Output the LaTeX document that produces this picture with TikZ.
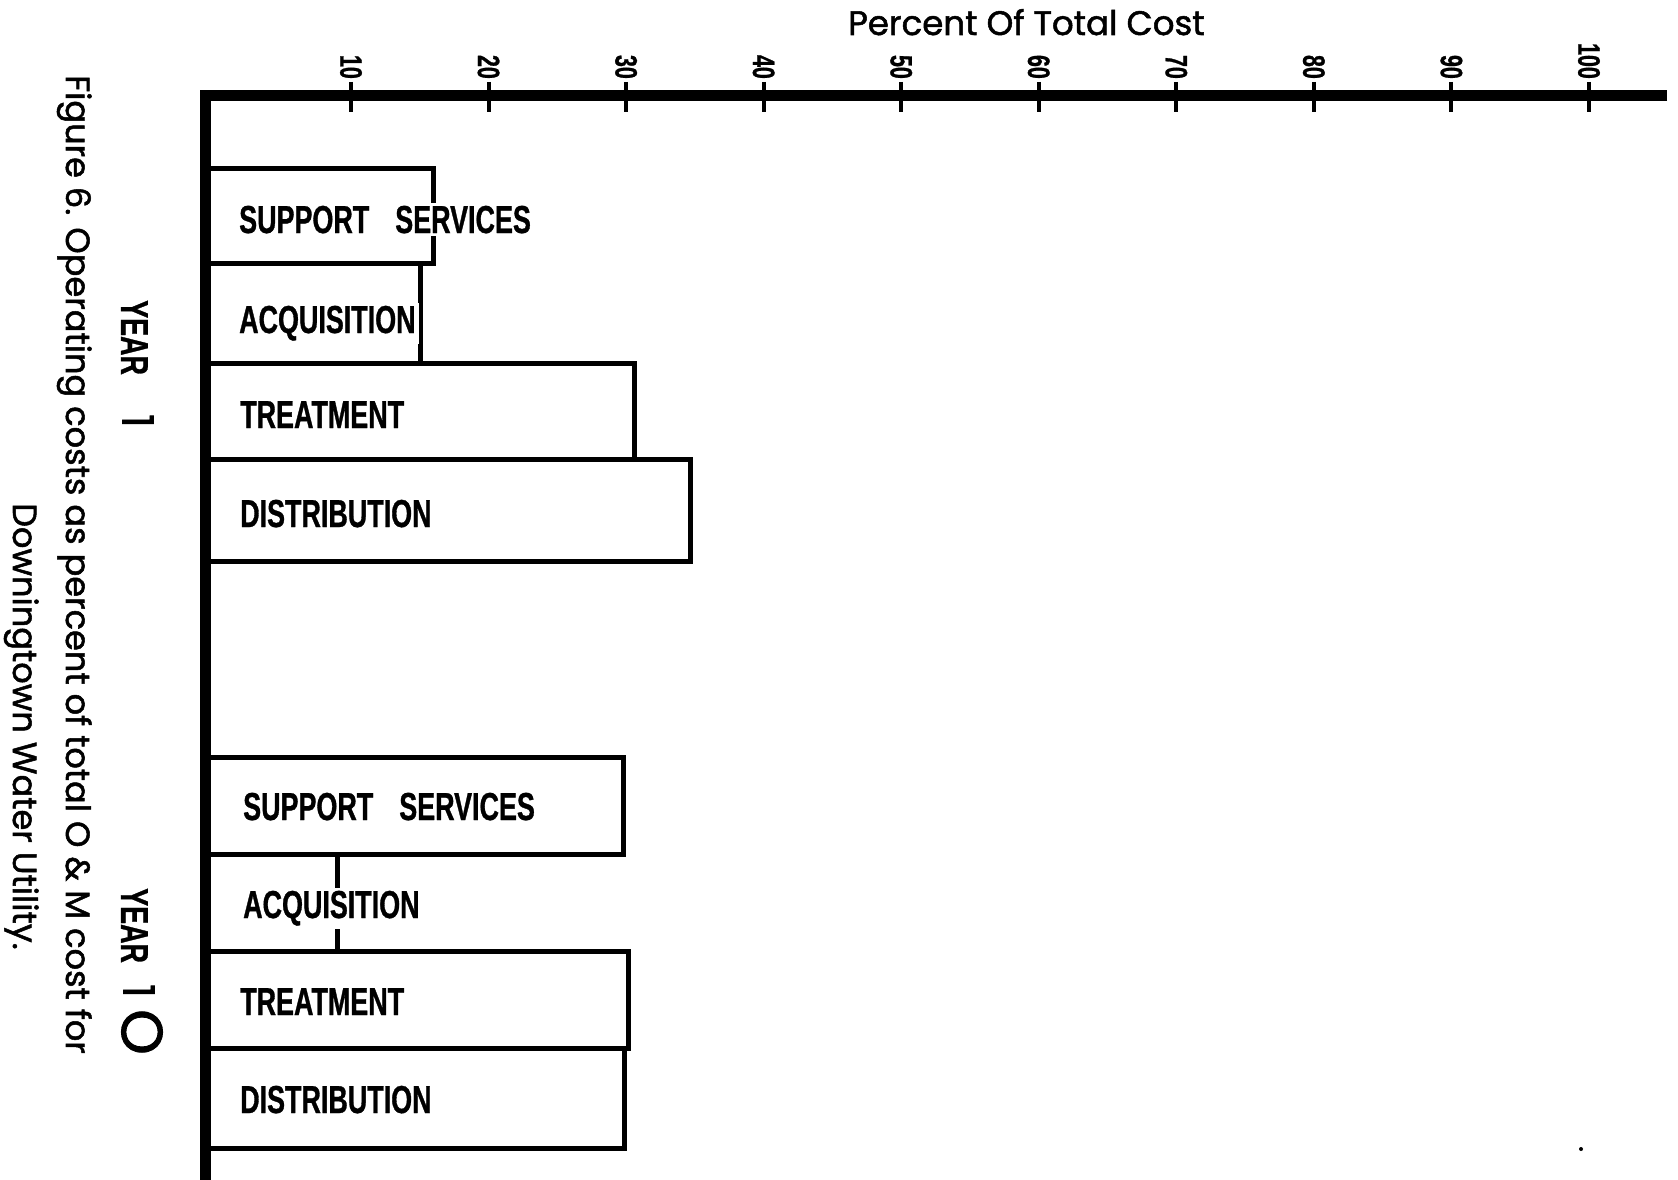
\documentclass[tikz,border=0pt]{standalone}
\usepackage{fontspec}
\newfontfamily\barfont{Liberation Sans}[FakeStretch=0.69, FakeBold=0.8]
\newfontfamily\geofont{Poppins}[FakeBold=1.5]
\tikzset{
  axisline/.style={line width=11pt, line join=miter, line cap=butt},
  tickline/.style={line width=4pt},
  barbox/.style={line width=5pt, line join=miter},
  barlabel/.style={anchor=base west, inner sep=3pt, fill=white,
    font=\barfont\bfseries\fontsize{39}{40}\selectfont},
  ticklabel/.style={rotate=-90, anchor=east, inner sep=0pt,
    font=\barfont\bfseries\fontsize{31}{32}\selectfont},
  yearlabel/.style={rotate=-90, anchor=base west, inner sep=0pt,
    font=\barfont\bfseries\fontsize{39}{40}\selectfont},
  yeardigit/.style={rotate=-90, inner sep=0pt, font=\geofont\fontsize{43}{44}\selectfont},
  yearring/.style={rotate=-90, inner sep=0pt, font=\geofont\fontsize{58}{60}\selectfont},
  caption/.style={rotate=-90, anchor=base west, inner sep=0pt,
    font=\geofont\fontsize{33.6}{36}\selectfont},
  axistitle/.style={anchor=base west, inner sep=0pt,
    font=\geofont\fontsize{34}{36}\selectfont}
}
\begin{document}
\begin{tikzpicture}[x=1pt, y=-1pt]
\useasboundingbox (0,0) rectangle (1678,1180);

% Year 1 bars
\draw[barbox] (205,168) rectangle (433,263);
\draw[barbox] (205,263) rectangle (420,363);
\draw[barbox] (205,363) rectangle (634,459);
\draw[barbox] (205,459) rectangle (690,561);

% Year 10 bars
\draw[barbox] (205,757) rectangle (623,854);
\draw[barbox] (205,854) rectangle (337,951);
\draw[barbox] (205,951) rectangle (628,1048);
\draw[barbox] (205,1048) rectangle (624,1148);

% Bar labels
\node[barlabel] (s1) at (236,233) {SUPPORT\hspace{26pt}SERVICES};
\node[barlabel] (a1) at (236,333) {ACQUISITION};
\node[barlabel] (t1) at (237,428) {TREATMENT};
\node[barlabel] (d1) at (237,527) {DISTRIBUTION};

\node[barlabel] (s10) at (240,820) {SUPPORT\hspace{26pt}SERVICES};
\node[barlabel] (a10) at (240,918) {ACQUISITION};
\node[barlabel] (t10) at (237,1015) {TREATMENT};
\node[barlabel] (d10) at (237,1113) {DISTRIBUTION};

% Axes
\draw[axisline] (1667,96) -- (205,96) -- (205,1180);

% Ticks and their labels
\foreach \k in {1,...,10} {
  \pgfmathsetmacro\tx{351+137.55*(\k-1)}
  \pgfmathtruncatemacro\val{\k*10}
  \draw[tickline] (\tx,82) -- (\tx,112);
  \node[ticklabel] (tick\k) at (\tx,79) {\val};
}

% Axis title
\node[axistitle] (title) at (848,35) {Percent Of Total Cost};

% Year markers
\node[yearlabel] (y1) at (121,300) {YEAR};
\node[yeardigit] (y1n) at (138,421) {1};
\node[yearlabel] (y10) at (121,888) {YEAR};
\node[yeardigit] (y10a) at (139,991) {1};
\node[yearring] (y10b) at (142,1032) {O};

% Caption
\node[caption] (cap1) at (66,75) {Figure 6. Operating costs as percent of total O \& M cost for};
\node[caption] (cap2) at (13,503) {Downingtown Water Utility.};

% Speck near the lower right corner
\fill (1581,1149) circle (2);
\end{tikzpicture}
\end{document}
